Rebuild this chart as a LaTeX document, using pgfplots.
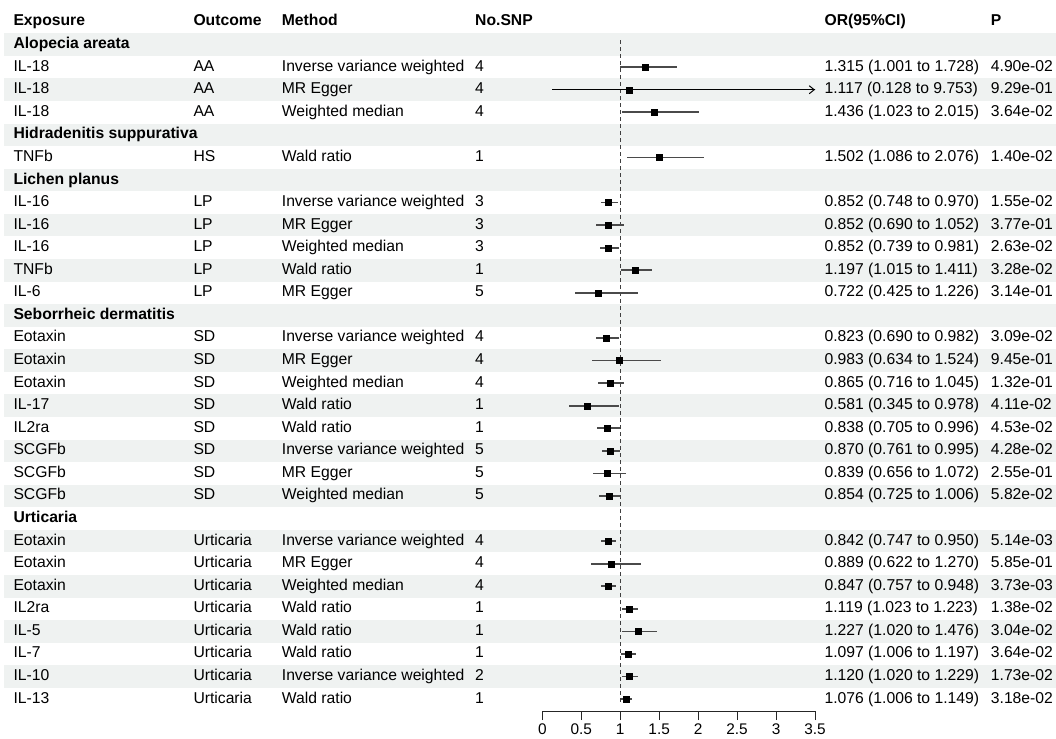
\documentclass[border=0pt]{standalone}
\usepackage{fontspec}
\setmainfont{Liberation Sans}
\usepackage{pgfplots}
\pgfplotsset{compat=1.18}
\usepackage{pgfplotstable}
\usetikzlibrary{arrows.meta}

\definecolor{band}{HTML}{EFF2F1}
\definecolor{cigray}{HTML}{4A4A4A}

% MR estimates: row position, exposure, outcome, method, number of SNPs,
% odds ratio with 95% confidence interval, and P value
\pgfplotstableread[col sep=comma,row sep=\\]{
r,exp,out,meth,n,or,lo,hi,p\\
2,IL-18,AA,Inverse variance weighted,4,1.315,1.001,1.728,4.90e-02\\
3,IL-18,AA,MR Egger,4,1.117,0.128,9.753,9.29e-01\\
4,IL-18,AA,Weighted median,4,1.436,1.023,2.015,3.64e-02\\
6,TNFb,HS,Wald ratio,1,1.502,1.086,2.076,1.40e-02\\
8,IL-16,LP,Inverse variance weighted,3,0.852,0.748,0.970,1.55e-02\\
9,IL-16,LP,MR Egger,3,0.852,0.690,1.052,3.77e-01\\
10,IL-16,LP,Weighted median,3,0.852,0.739,0.981,2.63e-02\\
11,TNFb,LP,Wald ratio,1,1.197,1.015,1.411,3.28e-02\\
12,IL-6,LP,MR Egger,5,0.722,0.425,1.226,3.14e-01\\
14,Eotaxin,SD,Inverse variance weighted,4,0.823,0.690,0.982,3.09e-02\\
15,Eotaxin,SD,MR Egger,4,0.983,0.634,1.524,9.45e-01\\
16,Eotaxin,SD,Weighted median,4,0.865,0.716,1.045,1.32e-01\\
17,IL-17,SD,Wald ratio,1,0.581,0.345,0.978,4.11e-02\\
18,IL2ra,SD,Wald ratio,1,0.838,0.705,0.996,4.53e-02\\
19,SCGFb,SD,Inverse variance weighted,5,0.870,0.761,0.995,4.28e-02\\
20,SCGFb,SD,MR Egger,5,0.839,0.656,1.072,2.55e-01\\
21,SCGFb,SD,Weighted median,5,0.854,0.725,1.006,5.82e-02\\
23,Eotaxin,Urticaria,Inverse variance weighted,4,0.842,0.747,0.950,5.14e-03\\
24,Eotaxin,Urticaria,MR Egger,4,0.889,0.622,1.270,5.85e-01\\
25,Eotaxin,Urticaria,Weighted median,4,0.847,0.757,0.948,3.73e-03\\
26,IL2ra,Urticaria,Wald ratio,1,1.119,1.023,1.223,1.38e-02\\
27,IL-5,Urticaria,Wald ratio,1,1.227,1.020,1.476,3.04e-02\\
28,IL-7,Urticaria,Wald ratio,1,1.097,1.006,1.197,3.64e-02\\
29,IL-10,Urticaria,Inverse variance weighted,2,1.120,1.020,1.229,1.73e-02\\
30,IL-13,Urticaria,Wald ratio,1,1.076,1.006,1.149,3.18e-02\\
}\mrdata

% disease group headings
\pgfplotstableread[col sep=comma,row sep=\\]{
r,name\\
1,Alopecia areata\\
5,Hidradenitis suppurativa\\
7,Lichen planus\\
13,Seborrheic dermatitis\\
22,Urticaria\\
}\groups

\begin{document}
\begin{tikzpicture}[x=1pt, y=1pt, font=\fontsize{15.7}{18}\selectfont,
  lbl/.style={anchor=base west, inner sep=0pt},
  hdr/.style={anchor=base west, inner sep=0pt, font=\fontsize{15.7}{18}\selectfont\bfseries}]
\useasboundingbox (0,0) rectangle (1056,738);

% zebra bands, one row = 22.57pt
\begin{scope}[shift={(0pt,715.97pt)}, x=1pt, y=-22.57pt]
  \foreach \k in {1,3,...,29}
    \fill[band] (4,\k-0.5) rectangle (1056,\k+0.5);
\end{scope}

% column headings
\node[hdr] at (13.3,712) {Exposure};
\node[hdr] at (193.3,712) {Outcome};
\node[hdr] at (281.7,712) {Method};
\node[hdr] at (475,712) {No.SNP};
\node[hdr] at (824.4,712) {OR(95\%CI)};
\node[hdr] at (990.7,712) {P};

\begin{axis}[
  at={(542.3pt,27pt)}, anchor=south west,
  scale only axis, width=272.7pt, height=711pt,
  xmin=0, xmax=3.5, ymin=-30.526, ymax=0.976,
  axis x line*=bottom, axis y line=none,
  xtick={0,0.5,1,1.5,2,2.5,3,3.5},
  xticklabels={0,0.5,1,1.5,2,2.5,3,3.5},
  tick align=outside, major tick length=9pt,
  x axis line style={line width=0.9pt, black!85},
  xtick style={line width=0.9pt, black!85},
  xticklabel style={font=\fontsize{15.4}{18}\selectfont, inner sep=0pt, yshift=-4pt},
  clip mode=individual,
]
% line of no effect
\addplot[dash pattern=on 4pt off 3pt, line width=1pt, black!75]
  coordinates {(1,-0.8) (1,-30.2)};
% estimates with 95% CI
\addplot[only marks, mark=square*, mark size=3pt, black,
  skip coords between index={1}{2},
  error bars/.cd, x dir=both, x explicit, error mark=none,
  error bar style={line width=1.7pt, cigray}]
  table[x=or, y expr=-\thisrow{r},
        x error plus expr=\thisrow{hi}-\thisrow{or},
        x error minus expr=\thisrow{or}-\thisrow{lo}] \mrdata;
% MR Egger for IL-18: upper limit beyond the axis range
\addplot[only marks, mark=square*, mark size=3pt, black,
  x filter/.code={\ifnum\coordindex=1 \else\def\pgfmathresult{}\fi},
  error bars/.cd, x dir=both, x explicit, error mark=none,
  error bar style={line width=1pt, black}]
  table[x=or, y expr=-\thisrow{r},
        x error plus expr=\thisrow{hi}-\thisrow{or},
        x error minus expr=\thisrow{or}-\thisrow{lo}] \mrdata;
\draw[black, line width=1pt, -{Straight Barb[length=5pt,width=8pt]}]
  (axis cs:3.3,-3) -- (axis cs:3.5,-3);
\end{axis}

% table text
\begin{scope}[shift={(0pt,715.97pt)}, x=1pt, y=-22.57pt]
  \pgfplotstablegetrowsof{\groups}
  \pgfmathtruncatemacro{\lastg}{\pgfplotsretval-1}
  \foreach \i in {0,...,\lastg}{
    \pgfplotstablegetelem{\i}{r}\of\groups \edef\vr{\pgfplotsretval}
    \pgfplotstablegetelem{\i}{name}\of\groups \edef\vname{\pgfplotsretval}
    \node[hdr] at (13.3,\vr+0.177) {\vname};
  }
  \pgfplotstablegetrowsof{\mrdata}
  \pgfmathtruncatemacro{\lastrow}{\pgfplotsretval-1}
  \foreach \i in {0,...,\lastrow}{
    \pgfplotstablegetelem{\i}{r}\of\mrdata \edef\vr{\pgfplotsretval}
    \pgfplotstablegetelem{\i}{exp}\of\mrdata \edef\vexp{\pgfplotsretval}
    \pgfplotstablegetelem{\i}{out}\of\mrdata \edef\vout{\pgfplotsretval}
    \pgfplotstablegetelem{\i}{meth}\of\mrdata \edef\vmeth{\pgfplotsretval}
    \pgfplotstablegetelem{\i}{n}\of\mrdata \edef\vn{\pgfplotsretval}
    \pgfplotstablegetelem{\i}{or}\of\mrdata \edef\vor{\pgfplotsretval}
    \pgfplotstablegetelem{\i}{lo}\of\mrdata \edef\vlo{\pgfplotsretval}
    \pgfplotstablegetelem{\i}{hi}\of\mrdata \edef\vhi{\pgfplotsretval}
    \pgfplotstablegetelem{\i}{p}\of\mrdata \edef\vp{\pgfplotsretval}
    \node[lbl] at (13.3,\vr+0.177) {\vexp};
    \node[lbl] at (193.3,\vr+0.177) {\vout};
    \node[lbl] at (281.7,\vr+0.177) {\vmeth};
    \node[lbl] at (475,\vr+0.177) {\vn};
    \node[lbl] at (824.4,\vr+0.177) {\vor\ (\vlo\ to \vhi)};
    \node[lbl] at (990.7,\vr+0.177) {\vp};
  }
\end{scope}
\end{tikzpicture}
\end{document}
